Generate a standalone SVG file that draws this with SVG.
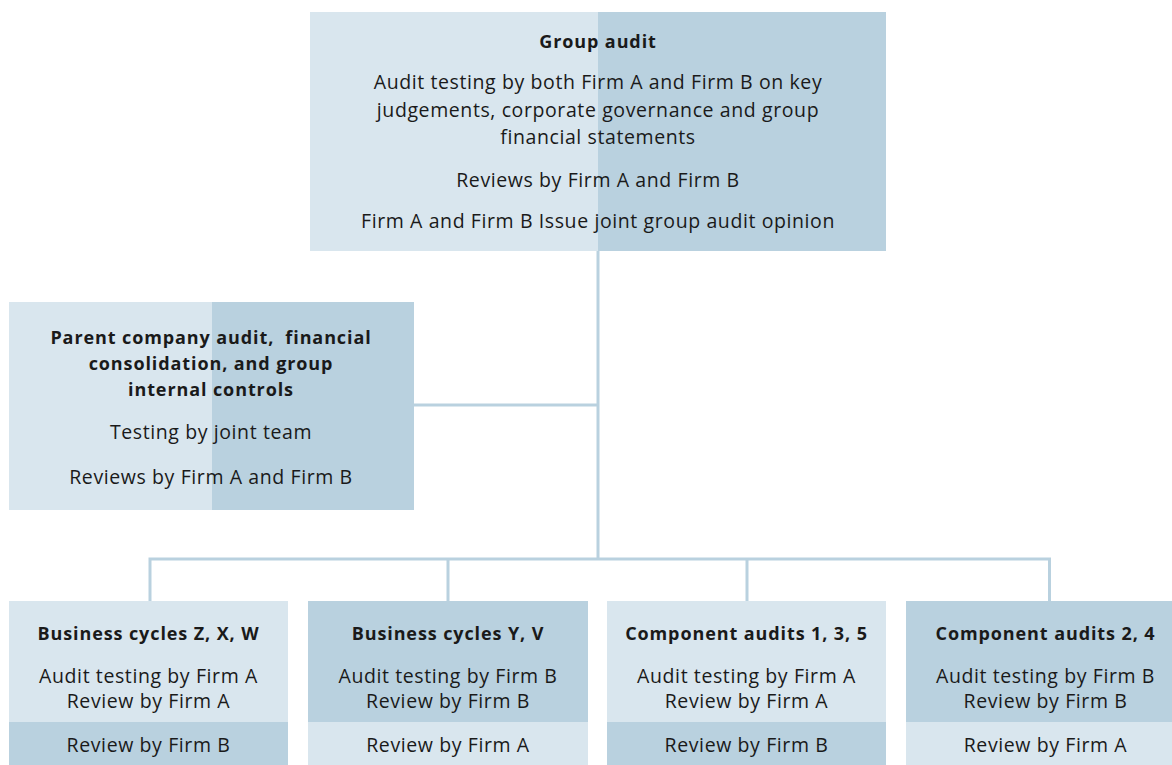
<svg xmlns="http://www.w3.org/2000/svg" width="1172" height="765" viewBox="0 0 1172 765">
<style>
.light{fill:#d9e6ee}
.dark{fill:#b9d1df}
.conn{stroke:#b9d1df;stroke-width:3;fill:none}
text{font-family:"Open Sans","Liberation Sans",sans-serif;fill:#1a1a1a;text-anchor:middle}
.t{font-size:18px;font-weight:bold;letter-spacing:0.9px}
.b{font-size:19.5px;letter-spacing:0.6px}
</style>
<rect width="1172" height="765" fill="#ffffff"/>
<g id="connectors">
<path class="conn" d="M598,251 V559"/>
<path class="conn" d="M414,405 H598"/>
<path class="conn" d="M150,601 V559 H1049.5 V601"/>
<path class="conn" d="M448,559 V601"/>
<path class="conn" d="M747,559 V601"/>
</g>
<g id="group-audit">
<rect class="light" x="310" y="12" width="288" height="239"/>
<rect class="dark" x="598" y="12" width="288" height="239"/>
<text class="t" x="598" y="48">Group audit</text>
<text class="b" x="598" y="89">Audit testing by both Firm A and Firm B on key</text>
<text class="b" x="598" y="117">judgements, corporate governance and group</text>
<text class="b" x="598" y="144">financial statements</text>
<text class="b" x="598" y="187">Reviews by Firm A and Firm B</text>
<text class="b" x="598" y="228">Firm A and Firm B Issue joint group audit opinion</text>
</g>
<g id="parent-audit">
<rect class="light" x="9" y="302" width="203" height="208"/>
<rect class="dark" x="212" y="302" width="202" height="208"/>
<text class="t" x="211" y="344">Parent company audit,&#160; financial</text>
<text class="t" x="211" y="370">consolidation, and group</text>
<text class="t" x="211" y="396">internal controls</text>
<text class="b" x="211" y="439">Testing by joint team</text>
<text class="b" x="211" y="484">Reviews by Firm A and Firm B</text>
</g>
<g id="cycles-zxw">
<rect class="light" x="9" y="601" width="279" height="121"/>
<rect class="dark" x="9" y="722" width="279" height="43"/>
<text class="t" x="148.5" y="640">Business cycles Z, X, W</text>
<text class="b" x="148.5" y="683">Audit testing by Firm A</text>
<text class="b" x="148.5" y="708">Review by Firm A</text>
<text class="b" x="148.5" y="752">Review by Firm B</text>
</g>
<g id="cycles-yv">
<rect class="dark" x="308" y="601" width="280" height="121"/>
<rect class="light" x="308" y="722" width="280" height="43"/>
<text class="t" x="448" y="640">Business cycles Y, V</text>
<text class="b" x="448" y="683">Audit testing by Firm B</text>
<text class="b" x="448" y="708">Review by Firm B</text>
<text class="b" x="448" y="752">Review by Firm A</text>
</g>
<g id="component-135">
<rect class="light" x="607" y="601" width="279" height="121"/>
<rect class="dark" x="607" y="722" width="279" height="43"/>
<text class="t" x="746.5" y="640">Component audits 1, 3, 5</text>
<text class="b" x="746.5" y="683">Audit testing by Firm A</text>
<text class="b" x="746.5" y="708">Review by Firm A</text>
<text class="b" x="746.5" y="752">Review by Firm B</text>
</g>
<g id="component-24">
<rect class="dark" x="906" y="601" width="266" height="121"/>
<rect class="light" x="906" y="722" width="266" height="43"/>
<text class="t" x="1045.5" y="640">Component audits 2, 4</text>
<text class="b" x="1045.5" y="683">Audit testing by Firm B</text>
<text class="b" x="1045.5" y="708">Review by Firm B</text>
<text class="b" x="1045.5" y="752">Review by Firm A</text>
</g>
</svg>
